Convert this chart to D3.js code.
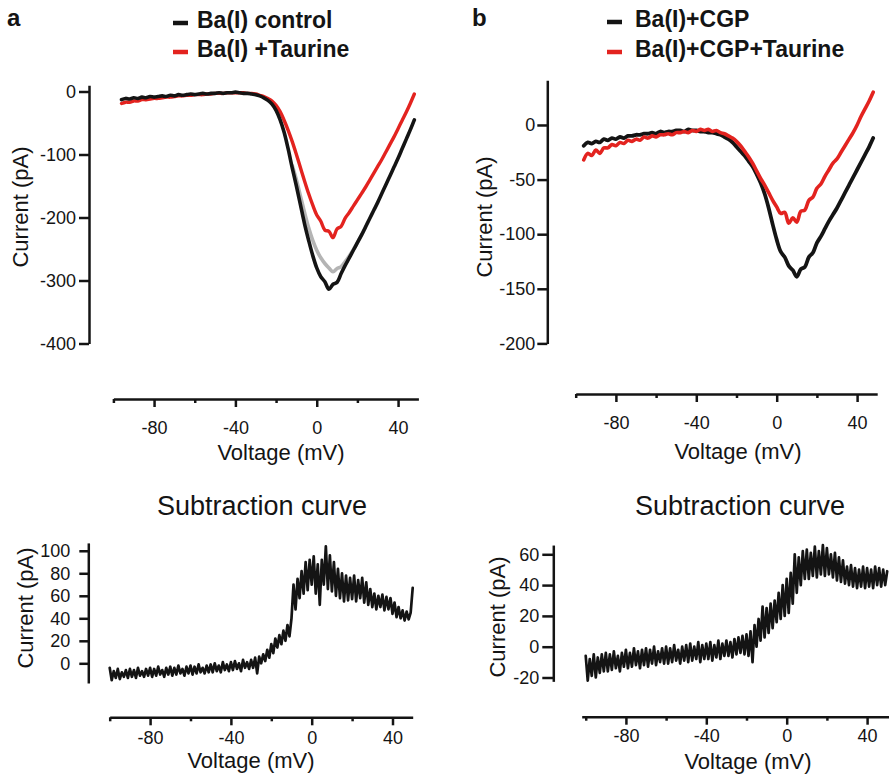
<!DOCTYPE html>
<html>
<head>
<meta charset="utf-8">
<script src="https://cdn.jsdelivr.net/npm/d3@7"></script>
<style>
  html, body { margin: 0; padding: 0; background: #fff; }
  svg { display: block; font-family: "Liberation Sans", Arial, Helvetica, sans-serif; }
</style>
</head>
<body>
<svg id="fig" width="889" height="776"></svg>
<script>
// ---------- Voltage ramp grids (mV) ----------
const rampTop = d3.range(-96, 49, 2);      // whole-cell I-V ramps, sampled every 2 mV
const rampGray = d3.range(-12, 25, 2);     // intermediate trace, visible around the peak
const rampSub = d3.range(-100, 51, 1);     // subtraction traces, sampled every 1 mV

// ---------- Panel a: Ba(I) control vs Ba(I) + Taurine (pA) ----------
const aControl = [
  -13, -11, -12, -10, -11, -9, -10, -8, -9, -8,
  -7, -8, -6, -7, -5, -6, -5, -4, -5, -4,
  -3, -4, -3, -3, -2, -3, -2, -2, -1, -2,
  -3, -3, -4, -5, -7, -10, -14, -20, -30, -45,
  -65, -92, -122, -150, -180, -210, -236, -260, -280, -294,
  -302, -314, -306, -303, -289, -276, -264, -252, -240, -228,
  -215, -202, -189, -176, -162, -148, -134, -120, -106, -91,
  -76, -61, -45
];
const aTaurine = [
  -19, -17, -17, -15, -15, -13, -13, -12, -11, -11,
  -10, -9, -9, -8, -7, -7, -6, -6, -5, -5,
  -5, -4, -4, -3, -3, -3, -2, -2, -2, -2,
  -2, -3, -3, -4, -6, -8, -11, -15, -22, -32,
  -46, -62, -80, -100, -121, -142, -162, -180, -196, -206,
  -220, -222, -232, -218, -214, -201, -192, -182, -172, -162,
  -152, -141, -130, -119, -108, -96, -84, -72, -59, -46,
  -33, -19, -4
];
const aIntermediate = [
  -118, -140, -166, -192, -216, -236, -252, -264, -273, -280,
  -286, -281, -278, -270, -261, -251, -240, -228, -215
];

// ---------- Panel b: Ba(I)+CGP vs Ba(I)+CGP+Taurine (pA) ----------
const bCGP = [
  -19, -16, -17, -15, -16, -13, -14, -12, -13, -11,
  -12, -10, -10, -9, -9, -8, -8, -7, -8, -6,
  -7, -6, -6, -5, -5, -6, -4, -5, -5, -6,
  -6, -7, -7, -8, -9, -11, -13, -16, -20, -24,
  -28, -33, -38, -45, -53, -63, -76, -91, -105, -116,
  -121, -129, -133, -139, -132, -130, -121, -117, -108, -102,
  -95, -88, -82, -76, -69, -62, -55, -48, -41, -34,
  -27, -20, -12
];
const bCGPTaurine = [
  -32, -26, -28, -23, -26, -21, -21, -18, -19, -16,
  -17, -14, -15, -13, -14, -11, -12, -10, -11, -9,
  -9, -8, -9, -7, -7, -6, -7, -5, -6, -4,
  -5, -4, -6, -5, -7, -8, -10, -12, -15, -19,
  -24, -29, -35, -42, -49, -55, -62, -69, -75, -81,
  -80, -90, -85, -89, -79, -78, -69, -66, -58, -54,
  -47, -41, -35, -31, -25, -19, -13, -7, 0, 8,
  15, 22, 30
];

// ---------- Subtraction curves (pA) ----------
const subA = [
  -4, -15, -7, -13, -5, -14, -8, -12, -6, -13,
  -5, -12, -6, -13, -4, -11, -7, -12, -5, -11,
  -4, -12, -5, -11, -3, -10, -6, -12, -4, -10,
  -3, -11, -4, -10, -2, -9, -5, -11, -3, -9,
  -2, -10, -3, -9, -1, -8, -4, -9, -2, -8,
  -1, -8, 0, -7, -2, -8, 1, -6, -1, -7,
  1, -6, 2, -5, 0, -7, 3, -4, 1, -5,
  3, -4, 5, -9, 6, 0, 8, 2, 12, 5,
  17, 9, 22, 14, 25, 17, 29, 20, 34, 24,
  40, 70, 48, 75, 58, 82, 62, 90, 65, 92,
  70, 95, 62, 88, 52, 92, 70, 104, 66, 96,
  64, 90, 60, 84, 58, 80, 55, 78, 56, 76,
  57, 78, 55, 74, 58, 76, 54, 72, 52, 66,
  50, 62, 48, 60, 50, 61, 47, 59, 48, 58,
  44, 54, 41, 50, 40, 47, 38, 46, 39, 45, 67
];
const subB = [
  -6, -22, -8, -19, -5, -20, -7, -17, -5, -16,
  -4, -16, -5, -15, -3, -14, -6, -16, -4, -13,
  -2, -14, -4, -13, -1, -12, -3, -14, -2, -12,
  -1, -13, -2, -11, 0, -12, -3, -10, -1, -11,
  0, -11, -1, -10, 1, -9, -2, -11, 0, -9,
  1, -10, 2, -9, 0, -8, 3, -10, 1, -8,
  2, -8, 3, -9, 1, -7, 4, -8, 2, -6,
  4, -6, 3, -7, 5, -5, 6, -4, 7, -5,
  8, -6, 10, -10, 14, 0, 18, 4, 26, 6,
  25, 9, 28, 12, 30, 16, 35, 18, 40, 20,
  44, 22, 48, 28, 60, 35, 58, 40, 62, 44,
  63, 44, 61, 46, 65, 45, 62, 47, 66, 46,
  64, 47, 60, 45, 61, 43, 58, 42, 56, 41,
  52, 40, 53, 39, 51, 38, 50, 39, 52, 38,
  51, 39, 50, 38, 52, 40, 51, 39, 50, 40, 49
];

// ---------- Axis ticks and text ----------
const xMajor = [-80, -40, 0, 40];
const xMinor = [-100, -60, -20, 20];
const yTicksA = [0, -100, -200, -300, -400];
const yTicksB = [0, -50, -100, -150, -200];
const yTicksSubA = [0, 20, 40, 60, 80, 100];
const yTicksSubB = [-20, 0, 20, 40, 60];
const legendA = ["Ba(I) control", "Ba(I) +Taurine"];
const legendB = ["Ba(I)+CGP", "Ba(I)+CGP+Taurine"];
const xTitle = "Voltage (mV)";
const yTitle = "Current (pA)";
const subTitle = "Subtraction curve";

const INK = "#141414";
const RED = "#e3231f";
const GRAY = "#b4b4b4";
const FONT = '"Liberation Sans", Arial, Helvetica, sans-serif';

const svg = d3.select("#fig");
const fmt = d => (d < 0 ? "-" + Math.abs(d) : String(d));

function styleAxis(g, fontSize) {
  g.attr("font-family", FONT).attr("font-size", fontSize);
  g.selectAll("path.domain").attr("stroke", INK).attr("stroke-width", 2.5);
  g.selectAll(".tick line").attr("stroke", INK).attr("stroke-width", 2.5);
  g.selectAll(".tick text").attr("fill", INK);
}

// One I-V plot: axes, titles, and the traces given
function plot(cfg) {
  const x = d3.scaleLinear().domain(cfg.xDomain).range(cfg.xRange);
  const y = d3.scaleLinear().domain(cfg.yDomain).range(cfg.yRange);

  // y axis
  const gy = svg.append("g").attr("transform", `translate(${cfg.yAxisX},0)`)
    .call(d3.axisLeft(y).tickValues(cfg.yTicks).tickFormat(fmt)
      .tickSize(cfg.yTickSize).tickSizeOuter(0).tickPadding(cfg.yTickPad));
  styleAxis(gy, 18);

  // x axis: labelled major ticks + short minor ticks
  const gx = svg.append("g").attr("transform", `translate(0,${cfg.xAxisY})`)
    .call(d3.axisBottom(x).tickValues(xMajor).tickFormat(fmt)
      .tickSize(8).tickSizeOuter(0).tickPadding(cfg.xTickPad));
  styleAxis(gx, 18);
  const gm = svg.append("g").attr("transform", `translate(0,${cfg.xAxisY})`)
    .call(d3.axisBottom(x).tickValues(xMinor).tickFormat("").tickSize(4).tickSizeOuter(0));
  styleAxis(gm, 18);
  gm.select("path.domain").remove();

  // axis titles
  svg.append("text").attr("x", cfg.xTitlePos[0]).attr("y", cfg.xTitlePos[1])
    .attr("text-anchor", "middle").attr("font-size", 22).attr("fill", INK).text(xTitle);
  svg.append("text")
    .attr("transform", `translate(${cfg.yTitlePos[0]},${cfg.yTitlePos[1]}) rotate(-90)`)
    .attr("text-anchor", "middle").attr("font-size", 22).attr("fill", INK).text(yTitle);

  // traces
  cfg.traces.forEach(t => {
    const line = d3.line().x((d, i) => x(t.v[i])).y(d => y(d))
      .curve(t.smooth ? d3.curveCatmullRom.alpha(0.5) : d3.curveLinear);
    svg.append("path").datum(t.values)
      .attr("fill", "none").attr("stroke", t.color).attr("stroke-width", t.width)
      .attr("stroke-linejoin", "round").attr("stroke-linecap", "round")
      .attr("d", line);
  });
}

// Panel a, top
plot({
  xDomain: [-100, 50], xRange: [113.4, 418.4],
  yDomain: [-400, 10], yRange: [343.5, 85.2],
  yAxisX: 89, yTicks: yTicksA, yTickSize: 10, yTickPad: 3,
  xAxisY: 399, xTickPad: 14,
  xTitlePos: [281, 460], yTitlePos: [28, 207],
  traces: [
    { v: rampGray, values: aIntermediate, color: GRAY, width: 3.6, smooth: true },
    { v: rampTop, values: aTaurine, color: RED, width: 3.4, smooth: true },
    { v: rampTop, values: aControl, color: INK, width: 3.6, smooth: true }
  ]
});

// Panel b, top
plot({
  xDomain: [-100, 50], xRange: [575.7, 877.2],
  yDomain: [-200, 41], yRange: [343.4, 80.2],
  yAxisX: 547.3, yTicks: yTicksB, yTickSize: 10, yTickPad: 2,
  xAxisY: 394, xTickPad: 14,
  xTitlePos: [738, 459], yTitlePos: [492, 217],
  traces: [
    { v: rampTop, values: bCGP, color: INK, width: 3.8, smooth: true },
    { v: rampTop, values: bCGPTaurine, color: RED, width: 3.6, smooth: true }
  ]
});

// Panel a, subtraction
plot({
  xDomain: [-100, 50], xRange: [109.7, 412.7],
  yDomain: [-17.5, 107], yRange: [683, 542.9],
  yAxisX: 88.3, yTicks: yTicksSubA, yTickSize: 9, yTickPad: 9,
  xAxisY: 717.3, xTickPad: 6,
  xTitlePos: [251, 768], yTitlePos: [33, 608],
  traces: [
    { v: rampSub, values: subA, color: INK, width: 2.7, smooth: false }
  ]
});

// Panel b, subtraction
plot({
  xDomain: [-102, 51], xRange: [581.7, 889.2],
  yDomain: [-22.5, 66], yRange: [681.35, 545.05],
  yAxisX: 553.3, yTicks: yTicksSubB, yTickSize: 11, yTickPad: 3,
  xAxisY: 716.7, xTickPad: 5,
  xTitlePos: [748, 769], yTitlePos: [505, 617],
  traces: [
    { v: rampSub, values: subB, color: INK, width: 2.7, smooth: false }
  ]
});

// Subtraction titles
svg.append("text").attr("x", 262).attr("y", 515).attr("text-anchor", "middle")
  .attr("font-size", 27).attr("fill", INK).text(subTitle);
svg.append("text").attr("x", 740).attr("y", 515).attr("text-anchor", "middle")
  .attr("font-size", 27).attr("fill", INK).text(subTitle);

// Panel letters
svg.append("text").attr("x", 7).attr("y", 26).attr("font-size", 24)
  .attr("font-weight", "bold").attr("fill", INK).text("a");
svg.append("text").attr("x", 472).attr("y", 26).attr("font-size", 24)
  .attr("font-weight", "bold").attr("fill", INK).text("b");

// Legends
function legend(items, colors, dashX, textX, rowsY) {
  items.forEach((label, i) => {
    svg.append("line").attr("x1", dashX).attr("x2", dashX + 15)
      .attr("y1", rowsY[i] - 5).attr("y2", rowsY[i] - 5)
      .attr("stroke", colors[i]).attr("stroke-width", 4.5);
    svg.append("text").attr("x", textX).attr("y", rowsY[i])
      .attr("font-size", 23).attr("font-weight", "bold").attr("fill", INK).text(label);
  });
}
legend(legendA, [INK, RED], 173, 197, [28, 57]);
legend(legendB, [INK, RED], 607, 635, [27, 57]);
</script>
</body>
</html>
